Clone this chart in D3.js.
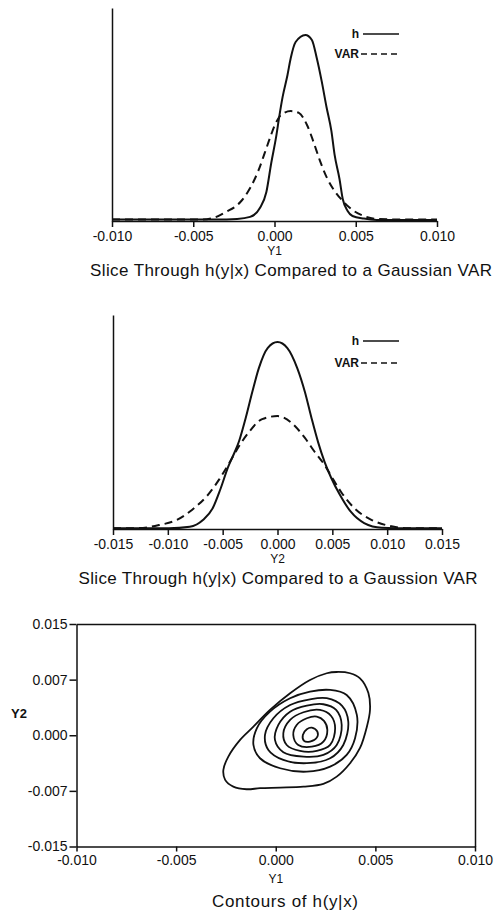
<!DOCTYPE html>
<html>
<head>
<meta charset="utf-8">
<script src="https://cdn.jsdelivr.net/npm/d3@7"></script>
<style>
  html, body { margin: 0; padding: 0; background: #fff; }
  svg { display: block; }
  text { font-family: "Liberation Sans", Arial, sans-serif; fill: #111; }
  .axis path, .axis line { stroke: #111; stroke-width: 1.5px; }
  .axis text { font-size: 14px; font-family: "Liberation Sans", Arial, sans-serif; fill: #111; }
  .curve { fill: none; stroke: #111; stroke-width: 2px; }
  .dashed { stroke-dasharray: 8, 5; }
  .contour { fill: none; stroke: #111; stroke-width: 1.8px; }
</style>
</head>
<body>
<svg id="chart" width="494" height="915"></svg>
<script>
// slice through Y1: [y1, relative height]
const y1Ticks = [-0.010, -0.005, 0.000, 0.005, 0.010]
const sliceY1_h = [
    [-0.0100, 0.008], [-0.0077, 0.008], [-0.0046, 0.008], [-0.0036, 0.008],
    [-0.0023, 0.011], [-0.0015, 0.022], [-0.0009, 0.070], [-0.0005, 0.156],
    [-0.0002, 0.312], [0.0001, 0.452], [0.0003, 0.565], [0.0005, 0.667],
    [0.0008, 0.785], [0.0010, 0.876], [0.0013, 0.962], [0.0019, 1.000],
    [0.0023, 0.973], [0.0026, 0.876], [0.0029, 0.753], [0.0032, 0.613],
    [0.0035, 0.484], [0.0037, 0.355], [0.0040, 0.226], [0.0042, 0.118],
    [0.0045, 0.054], [0.0048, 0.027], [0.0055, 0.013], [0.0063, 0.006],
    [0.0100, 0.005],
]
const sliceY1_var = [
    [-0.0100, 0.008], [-0.0046, 0.008], [-0.0038, 0.016], [-0.0030, 0.048],
    [-0.0021, 0.102], [-0.0015, 0.177], [-0.0010, 0.269], [-0.0006, 0.366],
    [-0.0003, 0.441], [0.0000, 0.511], [0.0004, 0.570], [0.0010, 0.591],
    [0.0015, 0.581], [0.0020, 0.516], [0.0024, 0.425], [0.0028, 0.323],
    [0.0032, 0.237], [0.0037, 0.161], [0.0042, 0.108], [0.0048, 0.059],
    [0.0055, 0.027], [0.0063, 0.011], [0.0077, 0.008], [0.0100, 0.008],
]

// slice through Y2
const y2Ticks = [-0.015, -0.010, -0.005, 0.000, 0.005, 0.010, 0.015]
const sliceY2_h = [
    [-0.0150, 0.004], [-0.0099, 0.004], [-0.0080, 0.012], [-0.0068, 0.048],
    [-0.0059, 0.112], [-0.0052, 0.214], [-0.0045, 0.332], [-0.0039, 0.412],
    [-0.0035, 0.471], [-0.0029, 0.594], [-0.0023, 0.733], [-0.0017, 0.861],
    [-0.0009, 0.968], [0.0000, 1.000], [0.0009, 0.968], [0.0018, 0.861],
    [0.0025, 0.733], [0.0031, 0.594], [0.0037, 0.465], [0.0043, 0.358],
    [0.0049, 0.273], [0.0057, 0.182], [0.0067, 0.091], [0.0079, 0.032],
    [0.0095, 0.007], [0.0119, 0.004], [0.0150, 0.004],
]
const sliceY2_var = [
    [-0.0150, 0.004], [-0.0126, 0.005], [-0.0108, 0.021], [-0.0092, 0.048],
    [-0.0078, 0.102], [-0.0062, 0.193], [-0.0053, 0.267], [-0.0044, 0.353],
    [-0.0035, 0.444], [-0.0026, 0.519], [-0.0014, 0.588], [0.0000, 0.604],
    [0.0013, 0.567], [0.0025, 0.487], [0.0034, 0.412], [0.0043, 0.342],
    [0.0050, 0.273], [0.0058, 0.198], [0.0070, 0.112], [0.0086, 0.048],
    [0.0101, 0.018], [0.0119, 0.004], [0.0150, 0.004],
]

// contour plot: [y1, y2] points of each closed level curve, outer to inner
const contourTicksY1 = [-0.010, -0.005, 0.000, 0.005, 0.010]
const contourTicksY2 = [-0.015, -0.0075, 0.000, 0.0075, 0.015]
const contourLabelsY2 = ['-0.015', '-0.007', '0.000', '0.007', '0.015']
const contour1 = [
    [0.00306, 0.00853], [0.00373, 0.00836], [0.00423, 0.00768], [0.00465, 0.00570],
    [0.00473, 0.00341], [0.00457, 0.00112], [0.00423, -0.00171], [0.00373, -0.00377],
    [0.00306, -0.00558], [0.00239, -0.00656], [0.00139, -0.00693], [0.00022, -0.00706],
    [-0.00079, -0.00714], [-0.00146, -0.00728], [-0.00213, -0.00693], [-0.00254, -0.00602],
    [-0.00263, -0.00468], [-0.00238, -0.00288], [-0.00179, -0.00063], [-0.00112, 0.00116],
    [-0.00029, 0.00341], [0.00072, 0.00566], [0.00172, 0.00745], [0.00256, 0.00836],
]
const contour2 = [
    [0.00273, 0.00611], [0.00356, 0.00543], [0.00407, 0.00274], [0.00398, -0.00040],
    [0.00356, -0.00265], [0.00273, -0.00423], [0.00156, -0.00491], [0.00022, -0.00445],
    [-0.00079, -0.00310], [-0.00112, -0.00131], [-0.00095, 0.00094], [-0.00029, 0.00318],
    [0.00072, 0.00499], [0.00172, 0.00588],
]
const contour3 = [
    [0.00256, 0.00499], [0.00333, 0.00395], [0.00364, 0.00183], [0.00339, -0.00131],
    [0.00273, -0.00310], [0.00156, -0.00377], [0.00038, -0.00333], [-0.00037, -0.00198],
    [-0.00054, 0.00004], [-0.00012, 0.00229], [0.00072, 0.00408], [0.00172, 0.00485],
]
const contour4 = [
    [0.00239, 0.00418], [0.00303, 0.00341], [0.00331, 0.00139], [0.00306, -0.00131],
    [0.00239, -0.00265], [0.00139, -0.00288], [0.00038, -0.00229], [-0.00004, -0.00063],
    [0.00013, 0.00139], [0.00072, 0.00318], [0.00156, 0.00399],
]
const contour5 = [
    [0.00222, 0.00341], [0.00278, 0.00260], [0.00298, 0.00094], [0.00273, -0.00131],
    [0.00206, -0.00212], [0.00122, -0.00212], [0.00055, -0.00131], [0.00038, 0.00027],
    [0.00072, 0.00206], [0.00139, 0.00310],
]
const contour6 = [
    [0.00206, 0.00251], [0.00242, 0.00193], [0.00259, 0.00071], [0.00239, -0.00086],
    [0.00181, -0.00154], [0.00113, -0.00131], [0.00088, 0.00004], [0.00105, 0.00139],
    [0.00156, 0.00229],
]
const contour7 = [
    [0.00181, 0.00102], [0.00209, 0.00049], [0.00206, -0.00032], [0.00172, -0.00086],
    [0.00142, -0.00077], [0.00136, 0.00004], [0.00156, 0.00081],
]
const contours = [contour1, contour2, contour3, contour4, contour5, contour6, contour7]

const svg = d3.select('#chart')
const fmt = d => d.toFixed(3)

function drawSlice(opts) {
    const { x0, x1, yBase, yTop, ticks, hData, varData, xLabel, caption, captionX, captionW, legendY } = opts

    const x = d3.scaleLinear()
        .domain([ticks[0], ticks[ticks.length - 1]])
        .range([x0, x1])
    const y = d3.scaleLinear()
        .domain([0, 1.145])
        .range([yBase, yTop])

    const g = svg.append('g')

    g.append('g')
        .attr('class', 'axis')
        .attr('transform', 'translate(0,' + yBase + ')')
        .call(d3.axisBottom(x).tickValues(ticks).tickFormat(fmt).tickSize(6).tickPadding(4).tickSizeOuter(0))

    g.append('g')
        .attr('class', 'axis')
        .attr('transform', 'translate(' + x0 + ',0)')
        .call(d3.axisLeft(y).tickValues([]).tickSizeOuter(0))

    const line = d3.line()
        .x(d => x(d[0]))
        .y(d => y(d[1]))
        .curve(d3.curveMonotoneX)

    g.append('path')
        .attr('class', 'curve')
        .attr('d', line(hData))

    g.append('path')
        .attr('class', 'curve dashed')
        .attr('d', line(varData))

    // legend
    const legend = g.append('g')
    legend.append('text')
        .attr('x', 359).attr('y', legendY[0]).attr('dy', '0.35em')
        .attr('text-anchor', 'end')
        .style('font-size', '12px').style('font-weight', 'bold')
        .text('h')
    legend.append('line')
        .attr('x1', 363).attr('x2', 399)
        .attr('y1', legendY[0]).attr('y2', legendY[0])
        .attr('class', 'curve').style('stroke-width', '1.6px')
    legend.append('text')
        .attr('x', 359).attr('y', legendY[1]).attr('dy', '0.35em')
        .attr('text-anchor', 'end')
        .style('font-size', '12px').style('font-weight', 'bold')
        .text('VAR')
    legend.append('line')
        .attr('x1', 361).attr('x2', 399)
        .attr('y1', legendY[1]).attr('y2', legendY[1])
        .attr('class', 'curve dashed').style('stroke-width', '1.6px')
        .style('stroke-dasharray', '6,4')

    g.append('text')
        .attr('x', x(0)).attr('y', yBase + 34)
        .attr('text-anchor', 'middle')
        .style('font-size', '12px')
        .text(xLabel)

    g.append('text')
        .attr('x', captionX).attr('y', yBase + 49).attr('dy', '0.35em')
        .attr('text-anchor', 'middle')
        .attr('textLength', captionW)
        .attr('lengthAdjust', 'spacing')
        .style('font-size', '17px')
        .text(caption)
}

drawSlice({
    x0: 112, x1: 437, yBase: 221, yTop: 8,
    ticks: y1Ticks, hData: sliceY1_h, varData: sliceY1_var,
    xLabel: 'Y1',
    caption: 'Slice Through h(y|x) Compared to a Gaussian VAR',
    captionX: 291, captionW: 402,
    legendY: [34, 54],
})

drawSlice({
    x0: 113, x1: 442, yBase: 529, yTop: 315,
    ticks: y2Ticks, hData: sliceY2_h, varData: sliceY2_var,
    xLabel: 'Y2',
    caption: 'Slice Through h(y|x) Compared to a Gaussion VAR',
    captionX: 278, captionW: 399,
    legendY: [341, 363],
})

// contour plot
const cx = d3.scaleLinear().domain([-0.010, 0.010]).range([76.5, 475])
const cy = d3.scaleLinear().domain([-0.015, 0.015]).range([846.5, 624])

const cg = svg.append('g')

cg.append('g')
    .attr('class', 'axis')
    .attr('transform', 'translate(0,846.5)')
    .call(d3.axisBottom(cx).tickValues(contourTicksY1).tickFormat(fmt).tickSize(5).tickPadding(4).tickSizeOuter(0))

cg.append('g')
    .attr('class', 'axis')
    .attr('transform', 'translate(76.5,0)')
    .call(d3.axisLeft(cy).tickValues(contourTicksY2).tickFormat((d, i) => contourLabelsY2[i]).tickSize(7).tickPadding(2).tickSizeOuter(0))

cg.append('g')
    .attr('class', 'axis')
    .attr('transform', 'translate(0,624)')
    .call(d3.axisTop(cx).tickValues([]).tickSizeOuter(0))

cg.append('g')
    .attr('class', 'axis')
    .attr('transform', 'translate(475,0)')
    .call(d3.axisRight(cy).tickValues([]).tickSizeOuter(0))

const contourLine = d3.line()
    .x(d => cx(d[0]))
    .y(d => cy(d[1]))
    .curve(d3.curveCatmullRomClosed.alpha(0.5))

cg.selectAll('path.contour')
    .data(contours)
    .enter().append('path')
        .attr('class', 'contour')
        .attr('d', d => contourLine(d))

cg.append('text')
    .attr('x', cx(0)).attr('y', 883)
    .attr('text-anchor', 'middle')
    .style('font-size', '12px')
    .text('Y1')

cg.append('text')
    .attr('x', 19).attr('y', 713).attr('dy', '0.35em')
    .attr('text-anchor', 'middle')
    .style('font-size', '13px').style('font-weight', 'bold')
    .text('Y2')

cg.append('text')
    .attr('x', 285).attr('y', 901).attr('dy', '0.35em')
    .attr('text-anchor', 'middle')
    .attr('textLength', 146)
    .attr('lengthAdjust', 'spacing')
    .style('font-size', '17px')
    .text('Contours of h(y|x)')
</script>
</body>
</html>
